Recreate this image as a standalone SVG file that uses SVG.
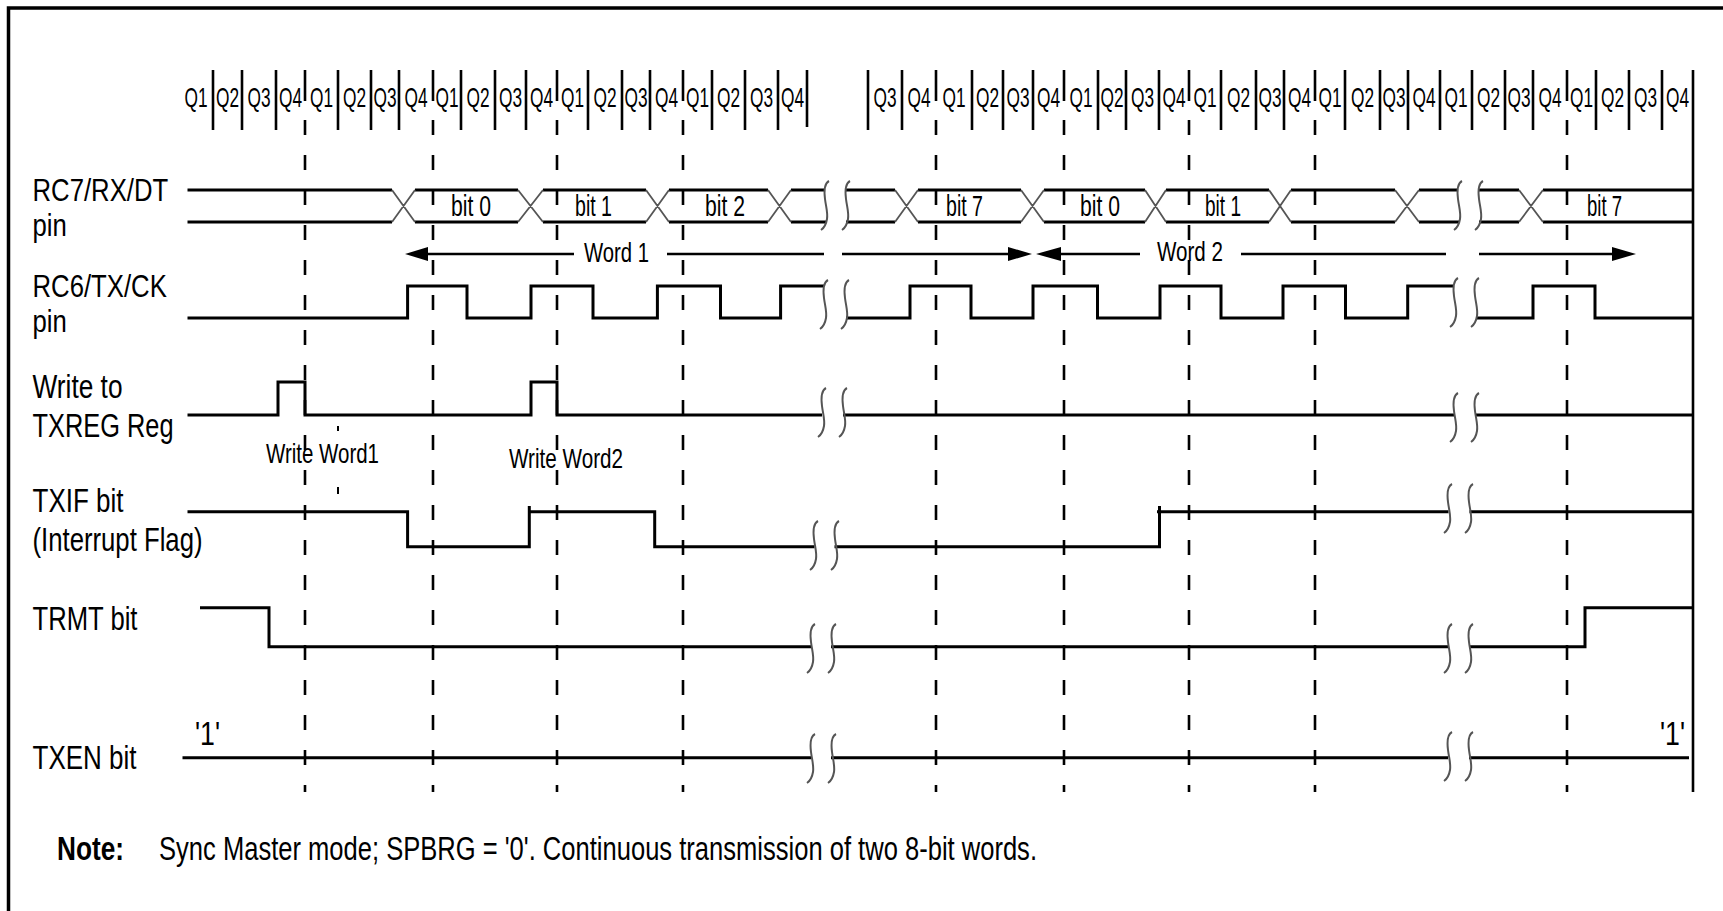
<svg xmlns="http://www.w3.org/2000/svg" xmlns:xlink="http://www.w3.org/1999/xlink" width="1723" height="911" viewBox="0 0 1723 911">
<style>
.t{font-family:"Liberation Sans",Arial,sans-serif;fill:#000}
.lbl{font-size:33px}
.lb2{font-size:31px}
.q{font-size:27px;text-anchor:middle}
.bit{font-size:29px}
.sm{font-size:28px}
.note{font-size:34px}
.sig{fill:none;stroke:#000;stroke-width:3}
.bar{stroke:#000;stroke-width:2.6}
.dash{stroke:#000;stroke-width:2.6;stroke-dasharray:15 20}
.xx{stroke:#555;stroke-width:1.8}
.brk{fill:none;stroke:#555;stroke-width:2}
.arr{stroke:#000;stroke-width:2.6}
</style>
<defs>
<g id="brk">
<path class="brk" d="M0 0 C-4 2 -5 10 -4 18 C-3 26 -1 32 -2 38 C-3 44 -5 47 -8 49"/>
<path class="brk" d="M21 0 C17 2 16 10 17 18 C18 26 20 32 19 38 C18 44 16 47 13 49"/>
</g>
</defs>
<rect width="1723" height="911" fill="#fff"/>
<path d="M8.5 911 V8 H1723" fill="none" stroke="#000" stroke-width="3.5"/>

<g id="grid">
<g class="bar">
<line x1="213" y1="70" x2="213" y2="130"/><line x1="242" y1="70" x2="242" y2="130"/><line x1="276" y1="70" x2="276" y2="130"/>
<line x1="338" y1="70" x2="338" y2="130"/><line x1="371" y1="70" x2="371" y2="130"/><line x1="399" y1="70" x2="399" y2="130"/>
<line x1="461" y1="70" x2="461" y2="130"/><line x1="495" y1="70" x2="495" y2="130"/><line x1="526" y1="70" x2="526" y2="130"/>
<line x1="588" y1="70" x2="588" y2="130"/><line x1="622" y1="70" x2="622" y2="130"/><line x1="650" y1="70" x2="650" y2="130"/>
<line x1="712" y1="70" x2="712" y2="130"/><line x1="745" y1="70" x2="745" y2="130"/><line x1="778" y1="70" x2="778" y2="130"/>
<line x1="807" y1="70" x2="807" y2="127"/><line x1="868" y1="70" x2="868" y2="130"/><line x1="902" y1="70" x2="902" y2="130"/>
<line x1="972" y1="70" x2="972" y2="130"/><line x1="1003" y1="70" x2="1003" y2="130"/><line x1="1033" y1="70" x2="1033" y2="130"/>
<line x1="1098" y1="70" x2="1098" y2="130"/><line x1="1126" y1="70" x2="1126" y2="130"/><line x1="1159" y1="70" x2="1159" y2="130"/>
<line x1="1221" y1="70" x2="1221" y2="130"/><line x1="1256" y1="70" x2="1256" y2="130"/><line x1="1284" y1="70" x2="1284" y2="130"/>
<line x1="1345" y1="70" x2="1345" y2="130"/><line x1="1380" y1="70" x2="1380" y2="130"/><line x1="1408" y1="70" x2="1408" y2="130"/>
<line x1="1440" y1="70" x2="1440" y2="130"/><line x1="1472" y1="70" x2="1472" y2="130"/><line x1="1505" y1="70" x2="1505" y2="130"/>
<line x1="1533" y1="70" x2="1533" y2="130"/><line x1="1596" y1="70" x2="1596" y2="130"/><line x1="1629" y1="70" x2="1629" y2="130"/>
<line x1="1662" y1="70" x2="1662" y2="130"/>
<line x1="1693" y1="70" x2="1693" y2="792"/>
<line x1="305" y1="70" x2="305" y2="101"/><line x1="433" y1="70" x2="433" y2="101"/><line x1="557" y1="70" x2="557" y2="101"/>
<line x1="683" y1="70" x2="683" y2="101"/><line x1="936" y1="70" x2="936" y2="101"/><line x1="1064" y1="70" x2="1064" y2="101"/>
<line x1="1189" y1="70" x2="1189" y2="101"/><line x1="1315" y1="70" x2="1315" y2="101"/><line x1="1567" y1="70" x2="1567" y2="101"/>
</g>
<g class="dash">
<line x1="305" y1="120" x2="305" y2="792"/><line x1="433" y1="120" x2="433" y2="792"/><line x1="557" y1="120" x2="557" y2="792"/>
<line x1="683" y1="120" x2="683" y2="792"/><line x1="936" y1="120" x2="936" y2="792"/><line x1="1064" y1="120" x2="1064" y2="792"/>
<line x1="1189" y1="120" x2="1189" y2="792"/><line x1="1315" y1="120" x2="1315" y2="792"/><line x1="1567" y1="120" x2="1567" y2="792"/>
</g>
<g class="t q">
<text transform="translate(196 107) scale(0.64 1)">Q1</text>
<text transform="translate(227.5 107) scale(0.64 1)">Q2</text>
<text transform="translate(259 107) scale(0.64 1)">Q3</text>
<text transform="translate(290.5 107) scale(0.64 1)">Q4</text>
<text transform="translate(321.5 107) scale(0.64 1)">Q1</text>
<text transform="translate(354.5 107) scale(0.64 1)">Q2</text>
<text transform="translate(385 107) scale(0.64 1)">Q3</text>
<text transform="translate(416 107) scale(0.64 1)">Q4</text>
<text transform="translate(447 107) scale(0.64 1)">Q1</text>
<text transform="translate(478 107) scale(0.64 1)">Q2</text>
<text transform="translate(510.5 107) scale(0.64 1)">Q3</text>
<text transform="translate(541.5 107) scale(0.64 1)">Q4</text>
<text transform="translate(572.5 107) scale(0.64 1)">Q1</text>
<text transform="translate(605 107) scale(0.64 1)">Q2</text>
<text transform="translate(636 107) scale(0.64 1)">Q3</text>
<text transform="translate(666.5 107) scale(0.64 1)">Q4</text>
<text transform="translate(697.5 107) scale(0.64 1)">Q1</text>
<text transform="translate(728.5 107) scale(0.64 1)">Q2</text>
<text transform="translate(761.5 107) scale(0.64 1)">Q3</text>
<text transform="translate(792.5 107) scale(0.64 1)">Q4</text>
<text transform="translate(885 107) scale(0.64 1)">Q3</text>
<text transform="translate(919 107) scale(0.64 1)">Q4</text>
<text transform="translate(954 107) scale(0.64 1)">Q1</text>
<text transform="translate(987.5 107) scale(0.64 1)">Q2</text>
<text transform="translate(1018 107) scale(0.64 1)">Q3</text>
<text transform="translate(1048.5 107) scale(0.64 1)">Q4</text>
<text transform="translate(1081 107) scale(0.64 1)">Q1</text>
<text transform="translate(1112 107) scale(0.64 1)">Q2</text>
<text transform="translate(1142.5 107) scale(0.64 1)">Q3</text>
<text transform="translate(1174 107) scale(0.64 1)">Q4</text>
<text transform="translate(1205 107) scale(0.64 1)">Q1</text>
<text transform="translate(1238.5 107) scale(0.64 1)">Q2</text>
<text transform="translate(1270 107) scale(0.64 1)">Q3</text>
<text transform="translate(1299.5 107) scale(0.64 1)">Q4</text>
<text transform="translate(1330 107) scale(0.64 1)">Q1</text>
<text transform="translate(1362.5 107) scale(0.64 1)">Q2</text>
<text transform="translate(1394 107) scale(0.64 1)">Q3</text>
<text transform="translate(1424 107) scale(0.64 1)">Q4</text>
<text transform="translate(1456 107) scale(0.64 1)">Q1</text>
<text transform="translate(1488.5 107) scale(0.64 1)">Q2</text>
<text transform="translate(1519 107) scale(0.64 1)">Q3</text>
<text transform="translate(1550 107) scale(0.64 1)">Q4</text>
<text transform="translate(1581.5 107) scale(0.64 1)">Q1</text>
<text transform="translate(1612.5 107) scale(0.64 1)">Q2</text>
<text transform="translate(1645.5 107) scale(0.64 1)">Q3</text>
<text transform="translate(1677.5 107) scale(0.64 1)">Q4</text>
</g>
</g>

<g id="rc7">
<text class="t lb2" transform="translate(32.5 0) scale(0.83 1)"><tspan x="0" y="201">RC7/RX/DT</tspan><tspan x="0" y="236">pin</tspan></text>
<path class="sig" d="M187.5 190H392M415 190H518M543 190H646M669 190H768M791 190H825M845 190H895M918 190H1021M1044 190H1145M1166 190H1269M1291 190H1395M1419 190H1458M1478 190H1519M1543 190H1693"/>
<path class="sig" d="M187.5 222H392M415 222H518M543 222H646M669 222H768M791 222H826M846 222H895M918 222H1021M1044 222H1145M1166 222H1269M1291 222H1395M1419 222H1459M1479 222H1519M1543 222H1693"/>
<path class="xx" d="M392 190L415 222M392 222L415 190M518 190L543 222M518 222L543 190M646 190L669 222M646 222L669 190M768 190L791 222M768 222L791 190M895 190L918 222M895 222L918 190M1021 190L1044 222M1021 222L1044 190M1145 190L1166 222M1145 222L1166 190M1269 190L1291 222M1269 222L1291 190M1395 190L1419 222M1395 222L1419 190M1519 190L1543 222M1519 222L1543 190"/>
<use xlink:href="#brk" x="829" y="181"/>
<use xlink:href="#brk" x="1462" y="181"/>
<g class="t bit">
<text x="451" y="216" textLength="40" lengthAdjust="spacingAndGlyphs">bit 0</text>
<text x="575" y="216" textLength="37" lengthAdjust="spacingAndGlyphs">bit 1</text>
<text x="705" y="216" textLength="40" lengthAdjust="spacingAndGlyphs">bit 2</text>
<text x="946" y="216" textLength="37" lengthAdjust="spacingAndGlyphs">bit 7</text>
<text x="1080" y="216" textLength="40" lengthAdjust="spacingAndGlyphs">bit 0</text>
<text x="1205" y="216" textLength="36" lengthAdjust="spacingAndGlyphs">bit 1</text>
<text x="1587" y="216" textLength="35" lengthAdjust="spacingAndGlyphs">bit 7</text>
</g>
</g>

<g id="connectors">
<path class="arr" d="M428 254H574M667 254H824M842 254H1008M1061 254H1140M1241 254H1446M1479 254H1612"/>
<polygon points="405,254 428,247 428,261"/>
<polygon points="1032,254 1008,247 1008,261"/>
<polygon points="1036,254 1061,247 1061,261"/>
<polygon points="1636,254 1612,247 1612,261"/>
<text class="t sm" x="584" y="262" textLength="65" lengthAdjust="spacingAndGlyphs">Word 1</text>
<text class="t sm" x="1157" y="261" textLength="66" lengthAdjust="spacingAndGlyphs">Word 2</text>
</g>

<g id="rc6">
<text class="t lb2" transform="translate(32.5 0) scale(0.83 1)"><tspan x="0" y="297">RC6/TX/CK</tspan><tspan x="0" y="332">pin</tspan></text>
<path class="sig" d="M187.5 318H407.6V286H467V318H531V286H593V318H657.4V286H720.5V318H780.6V286H824M846 318H910V286H971V318H1033V286H1097.5V318H1160V286H1221V318H1283V286H1345.5V318H1407.7V286H1454M1476 318H1533V286H1595V318H1693"/>
<use xlink:href="#brk" x="828" y="280"/>
<use xlink:href="#brk" x="1458" y="278"/>
</g>

<g id="txreg">
<text class="t lbl" x="32.5" y="398" textLength="90" lengthAdjust="spacingAndGlyphs">Write to</text>
<text class="t lbl" x="32.5" y="437" textLength="141" lengthAdjust="spacingAndGlyphs">TXREG Reg</text>
<path class="sig" d="M187.5 415H278V382H305V415H531V382H557V415H822M843 415H1454M1475 415H1693"/>
<use xlink:href="#brk" x="826" y="388"/>
<use xlink:href="#brk" x="1458" y="393"/>
<text class="t sm" x="266" y="463" textLength="113" lengthAdjust="spacingAndGlyphs">Write Word1</text>
<text class="t sm" x="509" y="468" textLength="114" lengthAdjust="spacingAndGlyphs">Write Word2</text>
<path d="M338 426V431M338 487V494" stroke="#000" stroke-width="2"/>
</g>

<g id="txif">
<text class="t lbl" x="32.5" y="512" textLength="91" lengthAdjust="spacingAndGlyphs">TXIF bit</text>
<text class="t lbl" x="32.5" y="551" textLength="170" lengthAdjust="spacingAndGlyphs">(Interrupt Flag)</text>
<path class="sig" d="M187.5 511.7H407.6V546.7H529.3V506M528 511.7H654.7V546.7H814.5M834.5 546.7H1159.5V506M1157 511.7H1448.5M1469.5 511.7H1693"/>
<use xlink:href="#brk" x="818" y="521"/>
<use xlink:href="#brk" x="1452" y="484"/>
</g>

<g id="trmt">
<text class="t lbl" x="32.5" y="630" textLength="105" lengthAdjust="spacingAndGlyphs">TRMT bit</text>
<path class="sig" d="M200 607.7H269V646.7H811M831 646.7H1448M1469 646.7H1585V607.7H1692"/>
<use xlink:href="#brk" x="815" y="624"/>
<use xlink:href="#brk" x="1452" y="624"/>
</g>

<g id="txen">
<text class="t lbl" x="32.5" y="769" textLength="104" lengthAdjust="spacingAndGlyphs">TXEN bit</text>
<text class="t lbl" x="195" y="745" textLength="25" lengthAdjust="spacingAndGlyphs">'1'</text>
<text class="t lbl" x="1660" y="745" textLength="25" lengthAdjust="spacingAndGlyphs">'1'</text>
<path class="sig" d="M182.5 757.7H811M831 757.7H1448M1469 757.7H1689"/>
<use xlink:href="#brk" x="815" y="734"/>
<use xlink:href="#brk" x="1452" y="732"/>
</g>

<g id="note">
<text class="t note" x="57" y="860" font-weight="bold" textLength="67" lengthAdjust="spacingAndGlyphs">Note:</text>
<text class="t note" x="159" y="860" textLength="878" lengthAdjust="spacingAndGlyphs">Sync Master mode; SPBRG = '0'. Continuous transmission of two 8-bit words.</text>
</g>
</svg>
